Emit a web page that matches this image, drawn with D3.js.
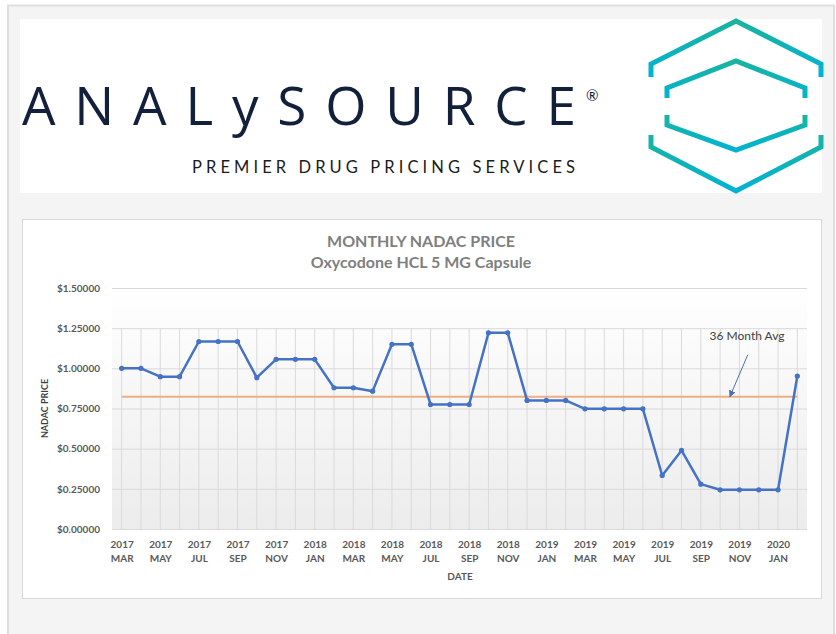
<!DOCTYPE html>
<html>
<head>
<meta charset="utf-8">
<script src="https://cdn.jsdelivr.net/npm/d3@7"></script>
<style>
  body { margin: 0; background: #ffffff; }
  svg { display: block; }
</style>
</head>
<body>
<div id="chart"></div>
<script>
// Monthly data, Mar 2017 - Feb 2020
const years = ["2017","2017","2017","2017","2017","2017","2017","2017","2017","2017",
  "2018","2018","2018","2018","2018","2018","2018","2018","2018","2018","2018","2018",
  "2019","2019","2019","2019","2019","2019","2019","2019","2019","2019","2019","2019",
  "2020","2020"];
const months = ["MAR","APR","MAY","JUN","JUL","AUG","SEP","OCT","NOV","DEC",
  "JAN","FEB","MAR","APR","MAY","JUN","JUL","AUG","SEP","OCT","NOV","DEC",
  "JAN","FEB","MAR","APR","MAY","JUN","JUL","AUG","SEP","OCT","NOV","DEC",
  "JAN","FEB"];
const prices = [1.000, 1.000, 0.948, 0.948, 1.167, 1.167, 1.167, 0.942, 1.056, 1.056,
  1.056, 0.879, 0.879, 0.858, 1.150, 1.150, 0.775, 0.775, 0.775, 1.221, 1.221, 0.800,
  0.800, 0.800, 0.748, 0.748, 0.748, 0.748, 0.333, 0.489, 0.279, 0.244, 0.244, 0.244,
  0.244, 0.952];
const yTicks = [0, 0.25, 0.5, 0.75, 1.0, 1.25, 1.5];

const W = 836, H = 634;
const svg = d3.select("#chart").append("svg")
    .attr("width", W)
    .attr("height", H);

const defs = svg.append("defs");
const hexGrad = defs.append("linearGradient")
    .attr("id", "hexGrad").attr("x1", 0).attr("y1", 0).attr("x2", 0).attr("y2", 1);
hexGrad.append("stop").attr("offset", "0%").attr("stop-color", "#1ab3a0");
hexGrad.append("stop").attr("offset", "100%").attr("stop-color", "#00b3d4");
const plotGrad = defs.append("linearGradient")
    .attr("id", "plotGrad").attr("x1", 0).attr("y1", 0).attr("x2", 0).attr("y2", 1);
plotGrad.append("stop").attr("offset", "0%").attr("stop-color", "#ffffff");
plotGrad.append("stop").attr("offset", "100%").attr("stop-color", "#ececec");

// Page frame
svg.append("rect")
    .attr("x", 8).attr("y", 5.5).attr("width", 826).attr("height", 640)
    .attr("fill", "#f4f4f4").attr("stroke", "#dedede").attr("stroke-width", 2);

// ---- Logo banner ----
svg.append("rect")
    .attr("x", 20).attr("y", 19).attr("width", 802).attr("height", 174)
    .attr("fill", "#ffffff");

const brand = svg.append("text")
    .attr("x", 22).attr("y", 125)
    .attr("textLength", 554).attr("lengthAdjust", "spacing")
    .style("font-family", "'Open Sans', sans-serif")
    .style("font-size", "53px")
    .style("fill", "#12203c");
brand.append("tspan").text("ANAL");
brand.append("tspan").text("y");
brand.append("tspan").text("SOURCE");

svg.append("text")
    .attr("x", 586).attr("y", 101)
    .style("font-family", "Lato, sans-serif")
    .style("font-size", "15px")
    .style("fill", "#12203c")
    .text("\u00AE");

svg.append("text")
    .attr("x", 192).attr("y", 173)
    .attr("textLength", 383).attr("lengthAdjust", "spacing")
    .style("font-family", "Lato, 'Open Sans', sans-serif")
    .style("font-size", "16.5px")
    .style("fill", "#1b1b1b")
    .text("PREMIER DRUG PRICING SERVICES");

// Hexagon mark
const hex = svg.append("g")
    .attr("fill", "none")
    .attr("stroke", "url(#hexGrad)")
    .attr("stroke-width", 5)
    .attr("stroke-linejoin", "miter");
hex.append("path").attr("d", "M651,77 L651,64 L736,21 L821,64 L821,77");
hex.append("path").attr("d", "M651,135 L651,147 L736,191 L821,147 L821,135");
hex.append("path").attr("d", "M667,98 L667,88 L736,61 L805,88 L805,98");
hex.append("path").attr("d", "M667,115 L667,125 L736,150 L805,125 L805,115");
hex.append("path").attr("d", "M707,106 L765,106");

// ---- Chart panel ----
svg.append("rect")
    .attr("x", 22.5).attr("y", 219.5).attr("width", 799).attr("height", 379)
    .attr("fill", "#ffffff").attr("stroke", "#d9d9d9");

const plot = { left: 112, right: 807, top: 288, bottom: 529 };

const x = d3.scalePoint()
    .domain(d3.range(prices.length))
    .range([plot.left, plot.right])
    .padding(0.5);
const y = d3.scaleLinear()
    .domain([0, 1.5])
    .range([plot.bottom, plot.top]);

svg.append("rect")
    .attr("x", plot.left).attr("y", plot.top)
    .attr("width", plot.right - plot.left).attr("height", plot.bottom - plot.top)
    .attr("fill", "url(#plotGrad)");

// Vertical gridlines
svg.append("g")
  .selectAll("line")
  .data(d3.range(prices.length))
  .join("line")
    .attr("x1", d => x(d)).attr("x2", d => x(d))
    .attr("y1", y(1.25)).attr("y2", y(0))
    .attr("stroke", "#dadada");

// Y axis with horizontal gridlines
const yAxis = svg.append("g")
    .attr("transform", `translate(${plot.left},0)`)
    .call(d3.axisLeft(y)
      .tickValues(yTicks)
      .tickFormat(d => "$" + d.toFixed(5))
      .tickSize(-(plot.right - plot.left))
      .tickPadding(12));
yAxis.select(".domain").remove();
yAxis.selectAll(".tick line").attr("stroke", "#d9d9d9");
yAxis.selectAll(".tick text")
    .style("font-family", "Lato, sans-serif")
    .style("font-size", "10px")
    .style("font-weight", "bold")
    .style("fill", "#595959");

// X axis, labels every other month
const xAxis = svg.append("g")
    .attr("transform", `translate(0,${plot.bottom})`)
    .call(d3.axisBottom(x)
      .tickValues(d3.range(0, prices.length, 2))
      .tickSize(0)
      .tickFormat(""));
xAxis.select(".domain").remove();
xAxis.selectAll(".tick").each(function(d) {
  const t = d3.select(this).append("text")
      .attr("text-anchor", "middle")
      .style("font-family", "Lato, sans-serif")
      .style("font-size", "10px")
      .style("font-weight", "bold")
      .style("fill", "#595959");
  t.append("tspan").attr("x", 0).attr("y", 18.5).text(years[d]);
  t.append("tspan").attr("x", 0).attr("y", 32.5).text(months[d]);
});

// 36 month average line
const avg = d3.mean(prices);
svg.append("line")
    .attr("x1", x(0)).attr("x2", x(prices.length - 1))
    .attr("y1", y(avg)).attr("y2", y(avg))
    .attr("stroke", "#ecae84")
    .attr("stroke-width", 2);

// Price line
svg.append("path")
    .datum(prices)
    .attr("fill", "none")
    .attr("stroke", "#4472c4")
    .attr("stroke-width", 2.5)
    .attr("stroke-linejoin", "round")
    .attr("d", d3.line().x((d, i) => x(i)).y(d => y(d)));

svg.append("g")
  .selectAll("circle")
  .data(prices)
  .join("circle")
    .attr("cx", (d, i) => x(i))
    .attr("cy", d => y(d))
    .attr("r", 2.6)
    .attr("fill", "#4472c4");

// Titles
const title = svg.append("text")
    .attr("text-anchor", "middle")
    .style("font-family", "Lato, sans-serif")
    .style("font-weight", "bold")
    .style("font-size", "16px")
    .style("fill", "#7f7f7f");
title.append("tspan").attr("x", 421).attr("y", 246.5).text("MONTHLY NADAC PRICE");
title.append("tspan").attr("x", 421).attr("y", 267.5).text("Oxycodone HCL 5 MG Capsule");

// Axis titles
svg.append("text")
    .attr("x", 460).attr("y", 580)
    .attr("text-anchor", "middle")
    .style("font-family", "Lato, sans-serif")
    .style("font-size", "10px")
    .style("font-weight", "bold")
    .style("fill", "#595959")
    .text("DATE");

svg.append("text")
    .attr("transform", `translate(48,${y(0.75)}) rotate(-90)`)
    .attr("text-anchor", "middle")
    .style("font-family", "Lato, sans-serif")
    .style("font-size", "9px")
    .style("font-weight", "bold")
    .style("fill", "#404040")
    .text("NADAC PRICE");

// Annotation
const tipX = x(31) + x.step() / 2, tipY = y(avg);
defs.append("marker")
    .attr("id", "arrow")
    .attr("viewBox", "0 0 10 10")
    .attr("refX", 9).attr("refY", 5)
    .attr("markerWidth", 7).attr("markerHeight", 7)
    .attr("orient", "auto")
  .append("path")
    .attr("d", "M0,0 L10,5 L0,10 Z")
    .attr("fill", "#4a72b8");
svg.append("line")
    .attr("x1", tipX + 18).attr("y1", tipY - 42)
    .attr("x2", tipX).attr("y2", tipY)
    .attr("stroke", "#4a72b8")
    .attr("stroke-width", 1)
    .attr("marker-end", "url(#arrow)");
svg.append("text")
    .attr("x", 747).attr("y", 340)
    .attr("text-anchor", "middle")
    .style("font-family", "Lato, sans-serif")
    .style("font-size", "12px")
    .style("fill", "#404040")
    .text("36 Month Avg");
</script>
</body>
</html>
